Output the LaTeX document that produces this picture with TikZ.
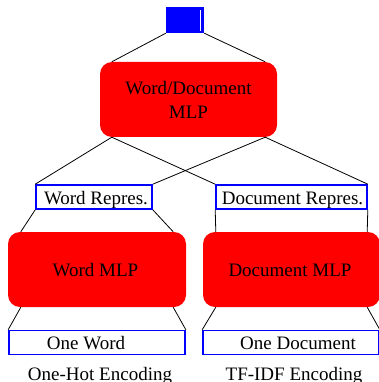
\documentclass[tikz,border=0pt]{standalone}
\usepackage{fontspec}
\setmainfont{Liberation Serif}
\begin{document}
\begin{tikzpicture}[x=1pt,y=-1pt,
  mlpbox/.style={rectangle,fill=red,rounded corners=12pt,inner sep=0pt,align=center},
  repbox/.style={rectangle,draw=blue,line width=1.6pt,fill=white,inner sep=0pt},
  conn/.style={draw=black,line width=0.8pt},
  lbl/.style={inner sep=0pt},
  every node/.style={font=\fontsize{19}{24}\selectfont}]
\useasboundingbox (0,0) rectangle (379,382);
\node[rectangle,fill=blue,minimum width=38pt,minimum height=26pt,inner sep=0pt] (top) at (185,20) {};
\node[mlpbox,minimum width=177pt,minimum height=75pt] (mlp) at (188.5,99.5) {Word/Document\\MLP};
\node[repbox,minimum width=116pt,minimum height=24pt] (wrep) at (94,197) {};
\node[lbl,anchor=base] (wrept) at (96,204) {Word Repres.};
\node[repbox,minimum width=151pt,minimum height=24pt] (drep) at (291.5,197) {};
\node[lbl,anchor=base] (drept) at (292.5,204) {Document Repres.};
\node[mlpbox,minimum width=178pt,minimum height=75pt] (wmlp) at (97,269.5) {};
\node[lbl,anchor=base] (wmlpt) at (95.5,276) {Word MLP};
\node[mlpbox,minimum width=177pt,minimum height=75pt] (dmlp) at (291.5,269.5) {};
\node[lbl,anchor=base] (dmlpt) at (290,276) {Document MLP};
\node[repbox,minimum width=176pt,minimum height=24pt] (oword) at (97,342.5) {};
\node[lbl,anchor=base] (owordt) at (86,349.5) {One Word};
\node[repbox,minimum width=176pt,minimum height=24pt] (odoc) at (291,342.5) {};
\node[lbl,anchor=base] (odoct) at (298,349.5) {One Document};
\node[lbl,anchor=base] (ohe) at (100,380) {One-Hot Encoding};
\node[lbl,anchor=base] (tfe) at (294,380) {TF-IDF Encoding};
\draw[white,line width=1pt] (200,10) -- (200,31);
% connectors
\draw[conn] (top.south west) -- ([xshift=12pt]mlp.north west);
\draw[conn] (top.south east) -- ([xshift=-12pt]mlp.north east);
\draw[conn] ([xshift=12pt]mlp.south west) -- (wrep.north west);
\draw[conn] ([xshift=12pt]mlp.south west) -- (drep.north west);
\draw[conn] ([xshift=-12pt]mlp.south east) -- (wrep.north east);
\draw[conn] ([xshift=-12pt]mlp.south east) -- (drep.north east);
\draw[conn] (wrep.south west) -- ([xshift=13pt]wmlp.north west);
\draw[conn] (wrep.south east) -- ([xshift=-13pt]wmlp.north east);
\draw[conn] (drep.south west) -- ([xshift=13pt]dmlp.north west);
\draw[conn] (drep.south east) -- ([xshift=-13pt]dmlp.north east);
\draw[conn] ([xshift=13pt]wmlp.south west) -- (oword.north west);
\draw[conn] ([xshift=-13pt]wmlp.south east) -- (oword.north east);
\draw[conn] ([xshift=13pt]dmlp.south west) -- (odoc.north west);
\draw[conn] ([xshift=-13pt]dmlp.south east) -- (odoc.north east);
\end{tikzpicture}
\end{document}
